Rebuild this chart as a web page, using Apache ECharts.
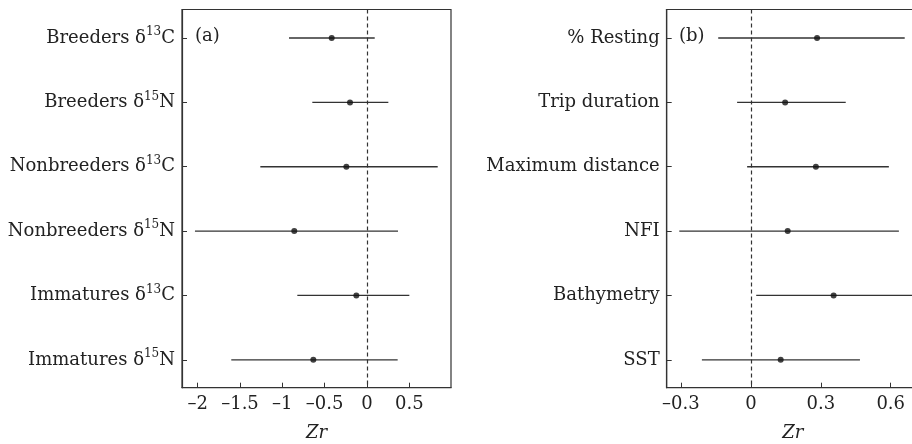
<!DOCTYPE html>
<html>
<head>
<meta charset="utf-8">
<script src="https://cdn.jsdelivr.net/npm/echarts@6/dist/echarts.min.js"></script>
<style>
  html, body { margin: 0; padding: 0; background: #fff; }
  #chart { width: 912px; height: 444px; }
</style>
</head>
<body>
<div id="chart"></div>
<script>
// Panel (a): stable isotopes
const isoLabels = [
  'Breeders δ{sup|13}C',
  'Breeders δ{sup|15}N',
  'Nonbreeders δ{sup|13}C',
  'Nonbreeders δ{sup|15}N',
  'Immatures δ{sup|13}C',
  'Immatures δ{sup|15}N'
];
const isoMean = [-0.417, -0.201, -0.244, -0.859, -0.126, -0.634];
const isoLow  = [-0.921, -0.646, -1.260, -2.032, -0.823, -1.603];
const isoHigh = [0.091, 0.252, 0.835, 0.366, 0.500, 0.362];
const isoTicks = [-2, -1.5, -1, -0.5, 0, 0.5];

// Panel (b): foraging behaviour and environment
const behLabels = ['% Resting', 'Trip duration', 'Maximum distance', 'NFI', 'Bathymetry', 'SST'];
const behMean = [0.284, 0.147, 0.279, 0.158, 0.355, 0.128];
const behLow  = [-0.140, -0.059, -0.016, -0.307, 0.023, -0.210];
const behHigh = [0.660, 0.407, 0.592, 0.635, 0.700, 0.468];
const behTicks = [-0.3, 0, 0.3, 0.6];

const rows = [1, 2, 3, 4, 5, 6];
const FONT = 'DejaVu Serif';
const FS = 18;
const INK = '#222';
const LINE = '#333';

function fmtTick(v) {
  return v < 0 ? '\u2013' + String(Math.abs(v)) : String(v);
}

function makeX(idx, min, max, ticks) {
  return {
    type: 'value', gridIndex: idx, min: min, max: max,
    splitLine: { show: false },
    axisLine: { show: true, onZero: false, lineStyle: { color: LINE, width: 1.2 } },
    axisTick: { show: true, inside: true, length: 5, customValues: ticks, lineStyle: { color: LINE } },
    axisLabel: {
      customValues: ticks, formatter: fmtTick, margin: 8,
      fontFamily: FONT, fontSize: FS, color: INK
    },
    name: 'Zr', nameLocation: 'middle', nameGap: 37,
    nameTextStyle: { fontFamily: FONT, fontSize: FS, fontStyle: 'italic', color: INK }
  };
}

function makeY(idx, labels) {
  return {
    type: 'value', gridIndex: idx, min: 0.557, max: 6.433, inverse: true,
    splitLine: { show: false },
    axisLine: { show: true, onZero: false, lineStyle: { color: LINE, width: 1.2 } },
    axisTick: { show: true, inside: true, length: 5, customValues: rows, lineStyle: { color: LINE } },
    axisLabel: {
      customValues: rows, margin: 7,
      formatter: function (v) { return labels[Math.round(v) - 1] || ''; },
      fontFamily: FONT, fontSize: FS, color: INK,
      rich: {
        sup: { fontFamily: FONT, fontSize: 12, color: INK, verticalAlign: 'top', lineHeight: 12 }
      },
      lineHeight: 24
    }
  };
}

function barData(low, high) {
  return rows.map((r, i) => [low[i], high[i], r]);
}
function pointData(mean) {
  return rows.map((r, i) => [mean[i], r]);
}

function intervalSeries(idx, low, high) {
  return {
    type: 'custom', xAxisIndex: idx, yAxisIndex: idx,
    data: barData(low, high),
    renderItem: function (params, api) {
      const a = api.coord([api.value(0), api.value(2)]);
      const b = api.coord([api.value(1), api.value(2)]);
      return {
        type: 'line',
        shape: { x1: a[0], y1: a[1], x2: b[0], y2: b[1] },
        style: { stroke: LINE, lineWidth: 1.3 }
      };
    },
    silent: true, z: 2
  };
}

function pointSeries(idx, mean) {
  return {
    type: 'scatter', xAxisIndex: idx, yAxisIndex: idx,
    data: pointData(mean), symbol: 'circle', symbolSize: 6,
    itemStyle: { color: '#111' }, silent: true, z: 3,
    markLine: {
      silent: true, symbol: ['none', 'none'], label: { show: false },
      lineStyle: { color: LINE, type: [4, 3], width: 1.2 },
      data: [{ xAxis: 0 }]
    }
  };
}

const chart = echarts.init(document.getElementById('chart'), null, { renderer: 'canvas' });
chart.setOption({
  animation: false,
  backgroundColor: '#fff',
  grid: [
    { left: 182, top: 9.5, width: 269, height: 378.2, outerBoundsMode: 'none', containLabel: false,
      show: true, borderColor: LINE, borderWidth: 1.2, backgroundColor: 'transparent' },
    { left: 666.7, top: 9.5, width: 252, height: 378.2, outerBoundsMode: 'none', containLabel: false,
      show: true, borderColor: LINE, borderWidth: 1.2, backgroundColor: 'transparent' }
  ],
  xAxis: [makeX(0, -2.185, 0.992, isoTicks), makeX(1, -0.361, 0.72, behTicks)],
  yAxis: [makeY(0, isoLabels), makeY(1, behLabels)],
  graphic: [
    { type: 'text', left: 195, top: 27, style: { text: '(a)', font: FS + 'px "' + FONT + '"', fill: INK } },
    { type: 'text', left: 679, top: 27, style: { text: '(b)', font: FS + 'px "' + FONT + '"', fill: INK } }
  ],
  series: [
    intervalSeries(0, isoLow, isoHigh),
    pointSeries(0, isoMean),
    intervalSeries(1, behLow, behHigh),
    pointSeries(1, behMean)
  ]
});
</script>
</body>
</html>
